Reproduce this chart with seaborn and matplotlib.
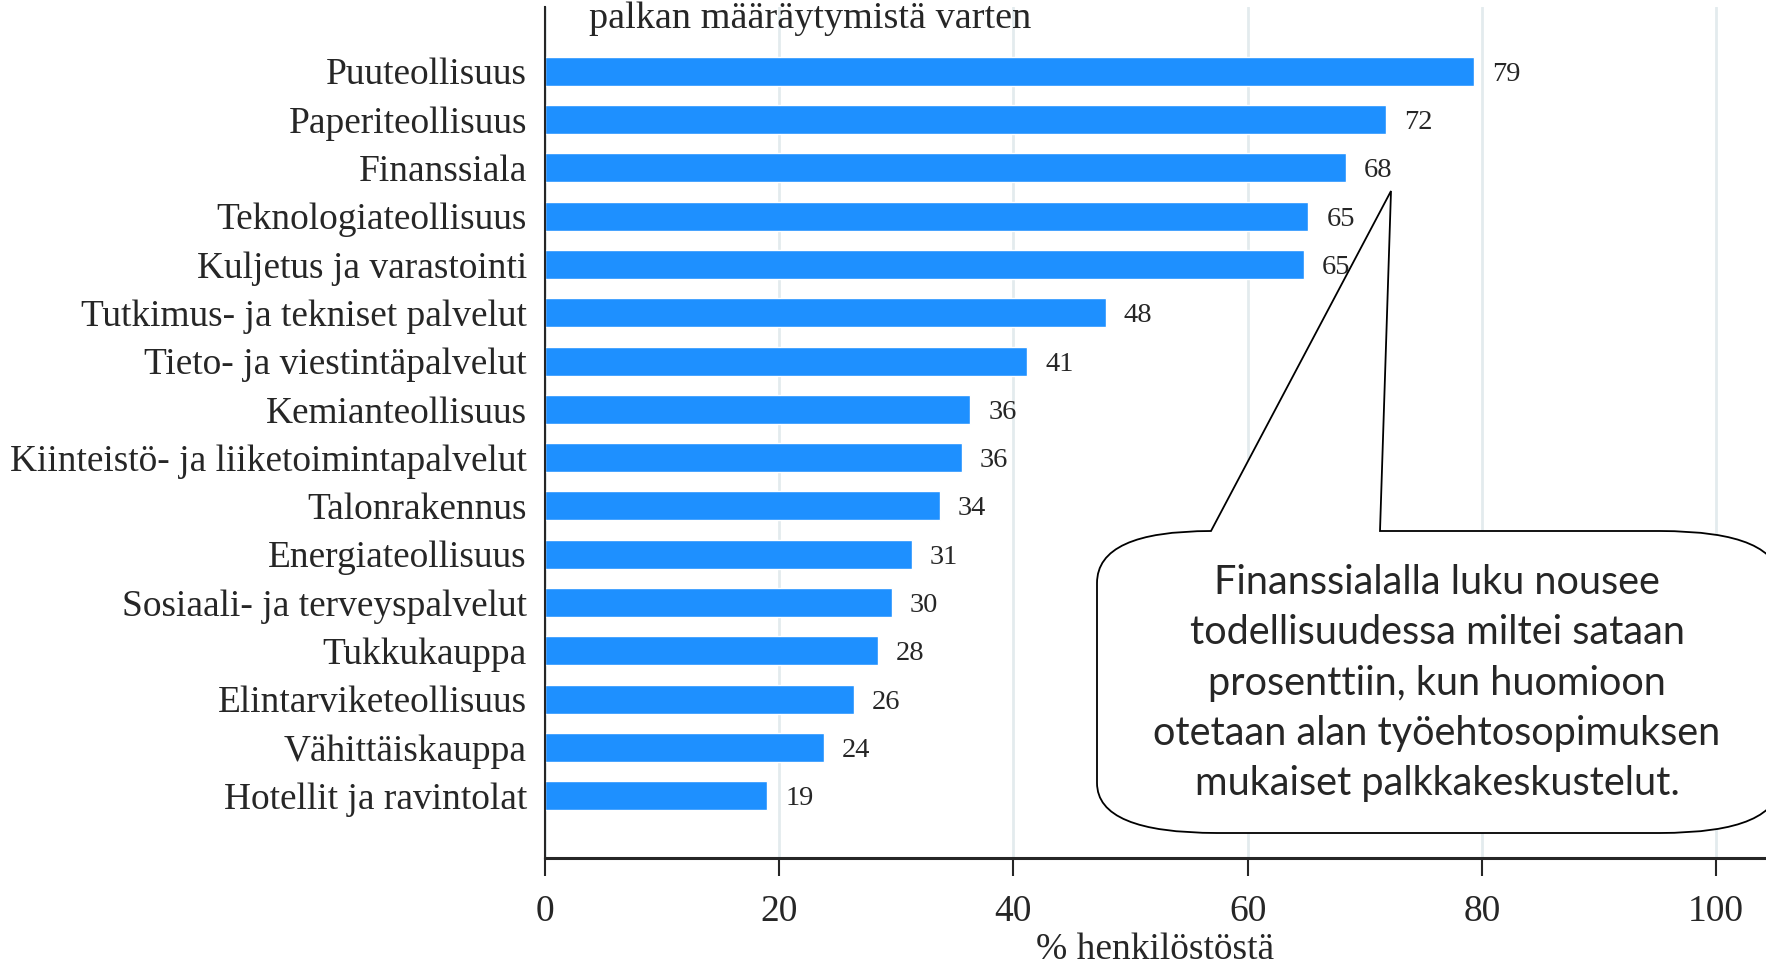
import numpy as np
import pandas as pd
import matplotlib
matplotlib.use("Agg")
from matplotlib import pyplot as plt
from matplotlib.path import Path
from matplotlib.patches import PathPatch
import seaborn as sns

# data
categories = ["Puuteollisuus", "Paperiteollisuus", "Finanssiala", "Teknologiateollisuus",
              "Kuljetus ja varastointi", "Tutkimus- ja tekniset palvelut",
              "Tieto- ja viestintäpalvelut", "Kemianteollisuus",
              "Kiinteistö- ja liiketoimintapalvelut", "Talonrakennus", "Energiateollisuus",
              "Sosiaali- ja terveyspalvelut", "Tukkukauppa", "Elintarviketeollisuus",
              "Vähittäiskauppa", "Hotellit ja ravintolat"]
values = [79.3, 71.8, 68.4, 65.2, 64.8, 47.9, 41.2, 36.3, 35.6, 33.7, 31.3, 29.6,
          28.4, 26.4, 23.8, 19.0]
xticks = [0, 20, 40, 60, 80, 100]
title_text = "palkan määräytymistä varten"
xlabel_text = "% henkilöstöstä"
note_text = ("Finanssialalla luku nousee\ntodellisuudessa miltei sataan\n"
             "prosenttiin, kun huomioon\notetaan alan työehtosopimuksen\n"
             "mukaiset palkkakeskustelut.")

W, H = 1766, 964


def fx(px):
    return px / W


def fy(py):
    return 1 - py / H


def plot(df, outf):
    sns.set_style("white")
    plt.rcParams['font.family'] = ['Liberation Serif', 'DejaVu Serif']

    fig = plt.figure(figsize=(W / 100, H / 100), dpi=100)
    ax = fig.add_axes([fx(545), fy(858), 1 - fx(545), (858 - 7) / H])

    sns.barplot(data=df, x="osuus", y="ala", orient="h", color="#1e90ff",
                saturation=1, width=0.6, errorbar=None, ax=ax, zorder=2)
    labels = ax.bar_label(ax.containers[0], fmt="%.0f", padding=13, fontsize=20.5)
    for t in labels:
        t.set_va("center_baseline")

    ax.set_xlim(0, 104.27)
    ax.set_ylim(16.29, -1.33)
    ax.set_xticks(xticks)
    ax.xaxis.grid(True, color="#e3ebee", lw=2, zorder=0)
    ax.set_axisbelow(True)

    for s in ["top", "right"]:
        ax.spines[s].set_visible(False)
    ax.spines["left"].set_linewidth(1.5)
    ax.spines["bottom"].set_linewidth(2.2)
    ax.tick_params(axis="x", direction="out", length=13, width=1.5,
                   pad=13, labelsize=27, bottom=True)
    ax.tick_params(axis="y", length=0, pad=13, labelsize=26.9)
    for t in ax.get_yticklabels():
        t.set_va("center_baseline")
    ax.set_ylabel("")
    ax.set_xlabel(xlabel_text, fontsize=27, labelpad=3)

    fig.text(fx(589), fy(28), title_text, fontsize=27.5, ha="left", va="baseline")

    # callout bubble
    verts = [(1391, 191), (1211, 531), (1097, 531), (1097, 583), (1097, 783),
             (1097, 833), (1217, 833), (1660, 833), (1780, 833), (1780, 781),
             (1780, 583), (1780, 531), (1660, 531), (1380, 531), (1391, 191)]
    codes = [Path.MOVETO, Path.LINETO, Path.CURVE3, Path.CURVE3, Path.LINETO,
             Path.CURVE3, Path.CURVE3, Path.LINETO, Path.CURVE3, Path.CURVE3,
             Path.LINETO, Path.CURVE3, Path.CURVE3, Path.LINETO, Path.CLOSEPOLY]
    path = Path([(fx(x), fy(y)) for x, y in verts], codes)
    bubble = PathPatch(path, transform=fig.transFigure, facecolor="white",
                       edgecolor="black", lw=1.3, zorder=5)
    fig.add_artist(bubble)
    fig.text(fx(1437), fy(683), note_text, fontsize=28.5, ha="center", va="center",
             linespacing=1.45, family=["Lato", "DejaVu Sans"], zorder=6)

    fig.savefig(outf, dpi=100)


if __name__ == "__main__":
    df = pd.DataFrame({"ala": categories, "osuus": values})
    plot(df, "out.png")
